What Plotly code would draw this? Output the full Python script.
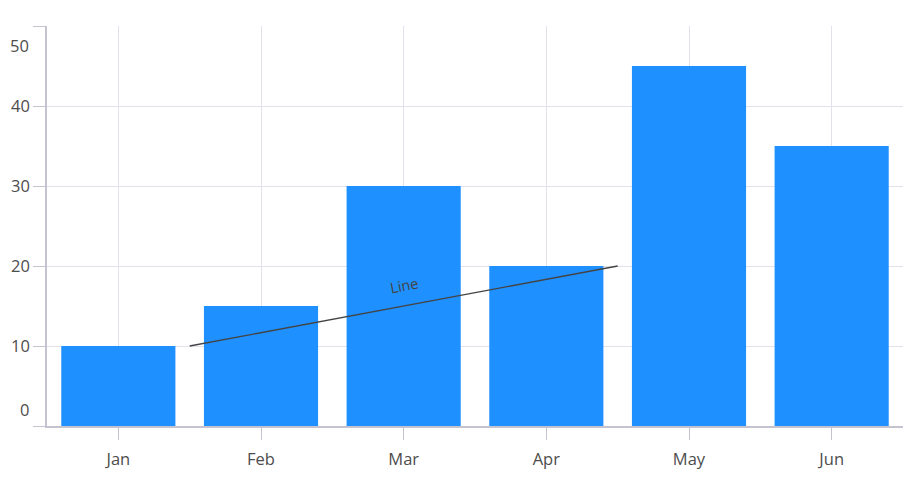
import math
import plotly.graph_objects as go

months = ["Jan", "Feb", "Mar", "Apr", "May", "Jun"]
values = [10, 15, 30, 20, 45, 35]
y_ticks = [0, 10, 20, 30, 40, 50]
y_tick_labels = ["0", "10", "20", "30", "40", "50"]
line_x = [0.5, 3.5]
line_y = [10, 20]
line_label = "Line"

# page body has an 8px margin, so the figure is sized to fit inside the window
W, H = 914, 474
M = dict(l=39, r=19, t=18, b=56)
FONT = "Open Sans, Noto Sans, sans-serif"
TXT = "#4d4d4d"
GRID = "#e4e1ec"
AXIS = "#c6c3d0"
FS = 16.5

fig = go.Figure()
fig.add_trace(go.Bar(
    x=months, y=values, width=0.8,
    marker=dict(color="#1E90FF", line=dict(width=0)),
    hoverinfo="x+y",
))

# inner tick labels (0 and 50 pushed inside the range like the reference)
inner_text = ["" if v in (y_ticks[0], y_ticks[-1]) else t for v, t in zip(y_ticks, y_tick_labels)]

fig.update_layout(
    width=W, height=H, margin=M,
    paper_bgcolor="white", plot_bgcolor="white",
    showlegend=False, bargap=0.2,
    font=dict(family=FONT, size=FS, color=TXT),
    xaxis=dict(
        type="category", range=[-0.5, len(months) - 0.5], automargin=False,
        showgrid=True, gridcolor=GRID, gridwidth=1,
        showline=True, linecolor=AXIS, linewidth=1.5,
        ticks="outside", ticklen=12, tickcolor=AXIS, tickwidth=1,
        ticklabelstandoff=5,
        tickfont=dict(family=FONT, size=FS, color=TXT),
    ),
    yaxis=dict(
        range=[y_ticks[0], y_ticks[-1]], automargin=False,
        tickvals=y_ticks, ticktext=inner_text,
        showgrid=True, gridcolor=GRID, gridwidth=1, zeroline=False,
        showline=True, linecolor=AXIS, linewidth=1.5,
        ticks="outside", ticklen=12, tickcolor=AXIS, tickwidth=1,
        tickfont=dict(family=FONT, size=FS, color=TXT),
    ),
)

# edge tick labels shifted inward
for v, t, shift in [(y_ticks[0], y_tick_labels[0], 17), (y_ticks[-1], y_tick_labels[-1], -19)]:
    fig.add_annotation(
        xref="paper", yref="y", x=0, y=v, text=t, showarrow=False,
        xanchor="right", yanchor="middle", xshift=-16, yshift=shift,
        font=dict(family=FONT, size=FS, color=TXT),
    )

# the annotated line
fig.add_shape(
    type="line", xref="x", yref="y",
    x0=line_x[0], y0=line_y[0], x1=line_x[1], y1=line_y[1],
    line=dict(color="#444444", width=1.3),
)
plot_w = W - M["l"] - M["r"]
plot_h = H - M["t"] - M["b"]
px_per_x = plot_w / len(months)
px_per_y = plot_h / (y_ticks[-1] - y_ticks[0])
angle = math.degrees(math.atan2((line_y[1] - line_y[0]) * px_per_y,
                                (line_x[1] - line_x[0]) * px_per_x))
fig.add_annotation(
    xref="x", yref="y",
    x=(line_x[0] + line_x[1]) / 2, y=(line_y[0] + line_y[1]) / 2,
    text=line_label, showarrow=False, textangle=-angle,
    yshift=21, font=dict(family=FONT, size=14.5, color="#444444"),
)

fig.write_html("out.html")
